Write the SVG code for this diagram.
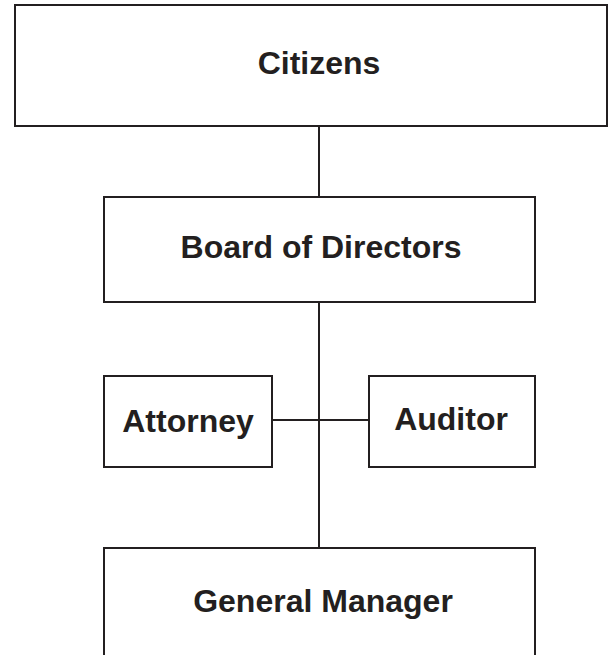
<svg xmlns="http://www.w3.org/2000/svg" width="608" height="655" viewBox="0 0 608 655">
<style>
.box{fill:#fff;stroke:#231f20;stroke-width:2}
.lbl{font-family:"Liberation Sans",Arial,sans-serif;font-weight:bold;font-size:32px;fill:#231f20;text-anchor:middle}
.conn{stroke:#231f20;stroke-width:2;fill:none}
</style>
<rect width="608" height="655" fill="#fff"/>
<g id="connectors">
<line class="conn" x1="319" y1="126" x2="319" y2="197"/>
<line class="conn" x1="319" y1="302" x2="319" y2="548"/>
<line class="conn" x1="272" y1="420" x2="369" y2="420"/>
</g>
<g id="citizens"><rect class="box" x="15" y="5" width="592" height="121"/><text class="lbl" x="319" y="74">Citizens</text></g>
<g id="board"><rect class="box" x="104" y="197" width="431" height="105"/><text class="lbl" x="321" y="258">Board of Directors</text></g>
<g id="attorney"><rect class="box" x="104" y="376" width="168" height="91"/><text class="lbl" x="188" y="432">Attorney</text></g>
<g id="auditor"><rect class="box" x="369" y="376" width="166" height="91"/><text class="lbl" x="451" y="430">Auditor</text></g>
<g id="gm"><rect class="box" x="104" y="548" width="431" height="120"/><text class="lbl" x="323" y="612">General Manager</text></g>
</svg>
